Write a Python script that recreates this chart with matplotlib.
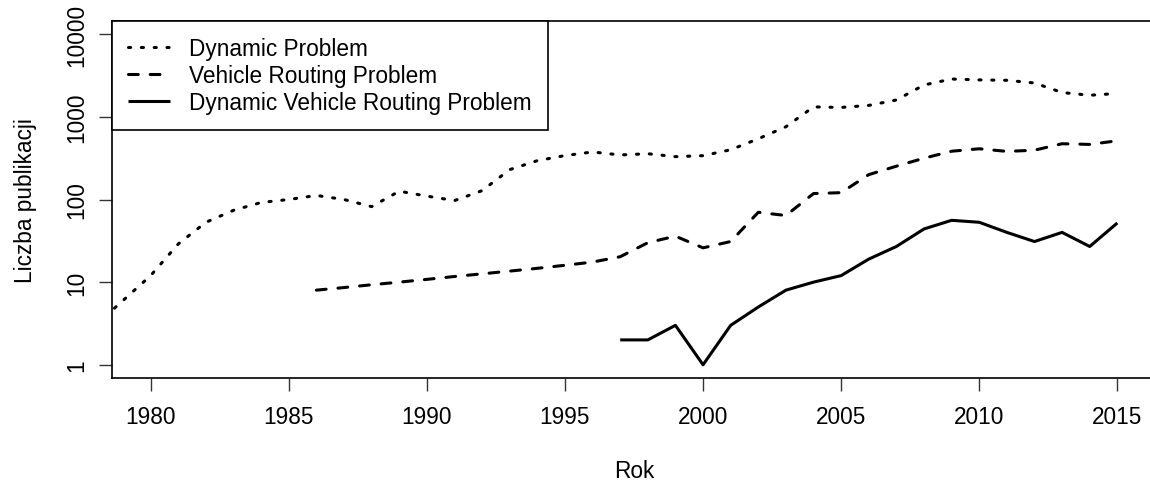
import matplotlib
matplotlib.use("Agg")
import matplotlib.pyplot as plt

plt.rcParams['font.family'] = ['Liberation Sans', 'DejaVu Sans']

# Dynamic Problem (1978-2015)
dp_years = list(range(1978, 2016))
dp_counts = [3, 6, 12, 29, 53, 74, 92, 100, 112, 100, 82, 126, 110, 97, 128,
             230, 295, 340, 376, 346, 358, 330, 339, 400, 543, 759, 1320, 1300,
             1376, 1600, 2430, 2870, 2800, 2770, 2570, 1970, 1825, 1920]

# Vehicle Routing Problem (1986-2015)
vrp_years = list(range(1986, 2016))
vrp_counts = [8, 8.6, 9.3, 10, 10.8, 11.7, 12.6, 13.6, 14.7, 16, 17.5, 20.3,
              30, 36, 26, 31, 70, 64, 118, 121, 200, 253, 316, 384, 411, 382,
              395, 473, 464, 514]

# Dynamic Vehicle Routing Problem (1997-2015)
dvrp_years = list(range(1997, 2016))
dvrp_counts = [2, 2, 3, 1, 3, 5, 8, 10, 12, 19, 27, 44, 56, 53, 40, 31, 40, 27, 52]

labels = ["Dynamic Problem", "Vehicle Routing Problem", "Dynamic Vehicle Routing Problem"]
xticks = [1980, 1985, 1990, 1995, 2000, 2005, 2010, 2015]
yticks = [1, 10, 100, 1000, 10000]

fs = 16.3
fig = plt.figure(figsize=(11.5, 4.89), dpi=100)
ax = fig.add_axes([112/1150, 110/489, 1044/1150, 357/489])

lw = 2.2
l1, = ax.plot(dp_years, dp_counts, color='black', lw=lw, dash_capstyle='round')
l1.set_dashes((0.7, 3.5))
l2, = ax.plot(vrp_years, vrp_counts, color='black', lw=lw, dash_capstyle='round')
l2.set_dashes((3.2, 3.9))
l3, = ax.plot(dvrp_years, dvrp_counts, color='black', lw=lw, solid_capstyle='butt')

ax.set_yscale('log')
ax.set_xlim(1978.6, 2016.4)
ax.set_ylim(10**-0.16, 10**4.16)
ax.minorticks_off()

ax.set_xticks(xticks)
ax.set_xticklabels([str(v) for v in xticks], fontsize=fs)
ax.set_yticks(yticks)
ax.set_yticklabels([str(v) for v in yticks], fontsize=fs, rotation=90, va='center')
ax.tick_params(axis='both', length=9.4, width=1.0, color='#333333')
ax.tick_params(axis='x', pad=10)
ax.tick_params(axis='y', pad=8)

for s in ax.spines.values():
    s.set_linewidth(1.2)

ax.set_xlabel("Rok", fontsize=fs, va='center')
ax.xaxis.set_label_coords(0.5, -0.26)
ax.set_ylabel("Liczba publikacji", fontsize=fs, va='center')
ax.yaxis.set_label_coords(-0.083, 0.5)

leg = ax.legend([l1, l2, l3], labels, loc='upper left', bbox_to_anchor=(0, 1),
                borderaxespad=0, fontsize=fs, handlelength=1.83, handletextpad=0.87,
                labelspacing=0.16, borderpad=0.72, fancybox=False, framealpha=1)
leg.get_frame().set_edgecolor('black')
leg.get_frame().set_linewidth(1.2)

fig.savefig("out.png", dpi=100)
